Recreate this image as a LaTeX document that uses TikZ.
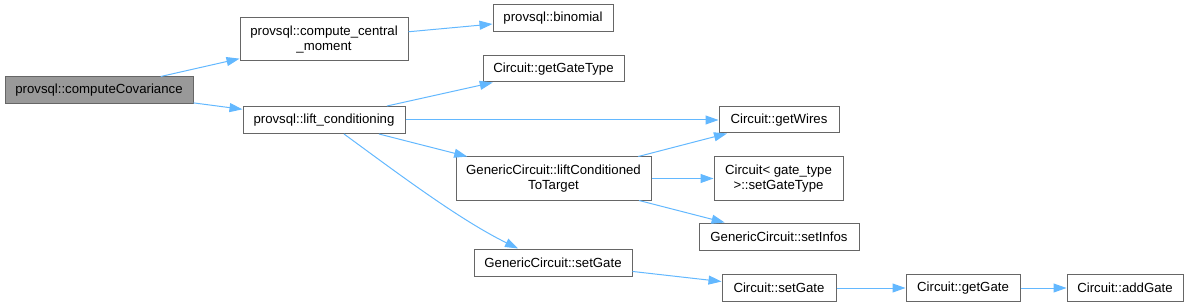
\documentclass[tikz,border=0pt]{standalone}
\usepackage{fontspec}
\setmainfont{Liberation Sans}
\usetikzlibrary{arrows.meta,calc}
\definecolor{edgeblue}{HTML}{63B8FF}
\definecolor{boxgray}{HTML}{666666}
\definecolor{rootgray}{HTML}{999999}
\begin{document}
\begin{tikzpicture}[x=1pt,y=-1pt,
  box/.style={draw=boxgray,line width=1pt,fill=white,rectangle,inner sep=0pt,align=center,
    font=\fontsize{13.2}{15}\selectfont},
  root/.style={box,fill=rootgray},
  link/.style={draw=edgeblue,line width=1pt,-{Triangle[length=13pt,width=9pt]}}]
\useasboundingbox (0,0) rectangle (1190,307);
\node[root,minimum width=188pt,minimum height=27pt] (cov) at (99,90.5) {provsql::computeCovariance};
\node[box,minimum width=168pt,minimum height=43pt] (ccm) at (324,39.5) {provsql::compute\_central\\\_moment};
\node[box,minimum width=162pt,minimum height=27pt] (lift) at (324,120) {provsql::lift\_conditioning};
\node[box,minimum width=120pt,minimum height=27pt] (bin) at (553,18.5) {provsql::binomial};
\node[box,minimum width=141pt,minimum height=26pt] (ggt) at (553.5,69) {Circuit::getGateType};
\node[box,minimum width=120pt,minimum height=26pt] (gw) at (779,120) {Circuit::getWires};
\node[box,minimum width=195pt,minimum height=43pt] (lct) at (553.5,178.5) {GenericCircuit::liftConditioned\\ToTarget};
\node[box,minimum width=129pt,minimum height=43pt] (sgt) at (778.5,178.5) {Circuit< gate\_type\\ >::setGateType};
\node[box,minimum width=160pt,minimum height=27pt] (sinf) at (779,236.5) {GenericCircuit::setInfos};
\node[box,minimum width=158pt,minimum height=27pt] (gcs) at (553,262.5) {GenericCircuit::setGate};
\node[box,minimum width=114pt,minimum height=27pt] (cs) at (779,288) {Circuit::setGate};
\node[box,minimum width=114pt,minimum height=27pt] (gg) at (963,288) {Circuit::getGate};
\node[box,minimum width=116pt,minimum height=27pt] (ag) at (1125,288) {Circuit::addGate};
\draw[link] (cov) -- (ccm);
\draw[link] (cov) -- (lift);
\draw[link] (ccm) -- (bin);
\draw[link] (lift) -- (ggt);
\draw[link] (lift) -- (gw);
\draw[link] (lift) -- (lct);
\draw[link] ([xshift=20pt]lift.south) .. controls (400,175) and (460,220) .. ([xshift=-35pt]gcs.north);
\draw[link] (lct) -- (gw);
\draw[link] (lct) -- (sgt);
\draw[link] (lct) -- (sinf);
\draw[link] (gcs) -- (cs);
\draw[link] (cs) -- (gg);
\draw[link] (gg) -- (ag);
\end{tikzpicture}
\end{document}
